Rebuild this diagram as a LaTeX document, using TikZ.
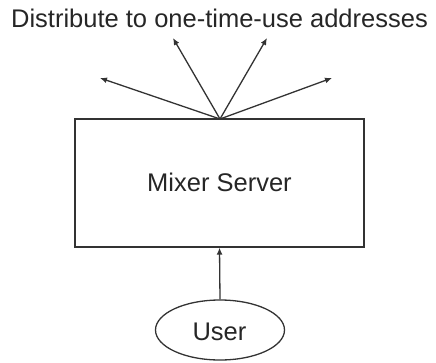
\documentclass[tikz,border=0pt]{standalone}
\usepackage{fontspec}
\setmainfont{Liberation Sans}
\usetikzlibrary{arrows.meta,shapes.geometric}
\begin{document}
\begin{tikzpicture}[x=1pt,y=-1pt,
  line/.style={draw=black!80, line width=1.3pt},
  arr/.style={line, -{Latex[length=7pt,width=6pt]}},
  lbl/.style={font=\fontsize{25.5}{30}\selectfont, text=black!85, inner sep=0pt, anchor=base}]
\useasboundingbox (0,0) rectangle (436,362);
\node[lbl] (title) at (219.5,27) {Distribute to one-time-use addresses};
\node[line, rectangle, minimum width=289pt, minimum height=128pt, inner sep=0pt] (mixer) at (219.5,183) {};
\node[lbl] (mixerlbl) at (219.5,191.5) {Mixer Server};
\node[line, ellipse, minimum width=129pt, minimum height=60pt, inner sep=0pt] (user) at (220,330) {};
\node[lbl] (userlbl) at (219.5,340) {User};
\coordinate (src) at (220,119);
\coordinate (t1) at (100,78);
\coordinate (t2) at (173,38);
\coordinate (t3) at (267,38);
\coordinate (t4) at (332,78);
\draw[arr] (src) -- (t1);
\draw[arr] (src) -- (t2);
\draw[arr] (src) -- (t3);
\draw[arr] (src) -- (t4);
\draw[arr] (user.north) -- (mixer.south);
\end{tikzpicture}
\end{document}
